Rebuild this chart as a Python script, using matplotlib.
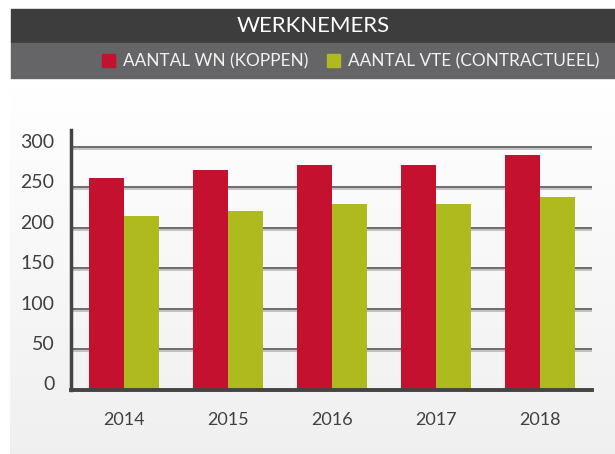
import numpy as np
import matplotlib
matplotlib.use('Agg')
import matplotlib.pyplot as plt
from matplotlib.patches import Rectangle
import matplotlib.transforms as mtransforms

# data
years = ['2014', '2015', '2016', '2017', '2018']
wn_koppen = [262, 272, 278, 278, 290]
vte_contract = [215, 221, 230, 230, 238]
y_ticks = [0, 50, 100, 150, 200, 250, 300]
title = 'WERKNEMERS'
legend_labels = ['AANTAL WN (KOPPEN)', 'AANTAL VTE (CONTRACTUEEL)']

red = '#c3112f'
green = '#aeba1e'
font = 'Lato'
plt.rcParams['font.family'] = [font, 'DejaVu Sans']

W, H = 615, 454
fig = plt.figure(figsize=(W / 100, H / 100), dpi=100)

def fx(px):
    return px / W

def fy(py):
    return 1 - py / H

# background panel with a soft vertical gradient
bg = fig.add_axes([fx(10), 0, fx(W - 10), fy(88)])
grad = np.linspace(1.0, 0.94, 200).reshape(-1, 1)
bg.imshow(np.dstack([grad, grad, grad]), aspect='auto', extent=[0, 1, 0, 1])
bg.set_axis_off()

# header bars
fig.patches.append(Rectangle((fx(11), fy(43)), fx(W - 11), fy(9) - fy(43),
                             transform=fig.transFigure, color='#3d3d3d', zorder=0))
fig.patches.append(Rectangle((fx(11), fy(78)), fx(W - 11), fy(43) - fy(78),
                             transform=fig.transFigure, color='#656567', zorder=0))
fig.text(fx(313), fy(26), title, color='white', fontsize=16, ha='center', va='center')

# legend inside the grey bar
leg_x = [102, 327]
for lx, lab, col in zip(leg_x, legend_labels, [red, green]):
    fig.patches.append(Rectangle((fx(lx), fy(67)), fx(13), fy(54) - fy(67),
                                 transform=fig.transFigure, color=col, zorder=1))
    fig.text(fx(lx + 21), fy(61), lab, color='#f2f2f2', fontsize=12.4, ha='left', va='center')

# main chart
ax = fig.add_axes([fx(71), fy(389.5), fx(592 - 71), fy(130) - fy(389.5)])
ax.patch.set_alpha(0)
x = np.arange(len(years))
bw = 0.337
ax.bar(x - bw / 2, wn_koppen, bw, color=red, zorder=3)
ax.bar(x + bw / 2, vte_contract, bw, color=green, zorder=3)

xl = (-0.51, 4.5)
ax.set_xlim(xl)
ax.set_ylim(0, 321)

shadow = mtransforms.offset_copy(ax.transData, fig=fig, x=0, y=-1.5, units='points')
for t in y_ticks[1:]:
    ax.plot(xl, [t, t], color='#b8b8b8', lw=1.2, zorder=1, transform=shadow)
    ax.plot(xl, [t, t], color='#555555', lw=1.2, zorder=2)

for s in ['top', 'right']:
    ax.spines[s].set_visible(False)
ax.spines['left'].set_linewidth(2.5)
ax.spines['bottom'].set_linewidth(2.8)
ax.spines['left'].set_color('#444444')
ax.spines['bottom'].set_color('#444444')
ax.spines['left'].set_zorder(5)
ax.spines['bottom'].set_zorder(5)

ax.set_yticks(y_ticks)
ax.set_yticklabels([str(t) for t in y_ticks])
ax.set_xticks(x)
ax.set_xticklabels(years)
ax.tick_params(axis='y', length=0, pad=12, labelsize=14, labelcolor='#404040')
ax.tick_params(axis='x', length=0, pad=16, labelsize=13, labelcolor='#404040')

# y labels sit a little above their gridlines
lift = mtransforms.ScaledTranslation(0, 6 / 100, fig.dpi_scale_trans)
for lab in ax.get_yticklabels():
    lab.set_transform(lab.get_transform() + lift)

fig.savefig('out.png', dpi=100)
